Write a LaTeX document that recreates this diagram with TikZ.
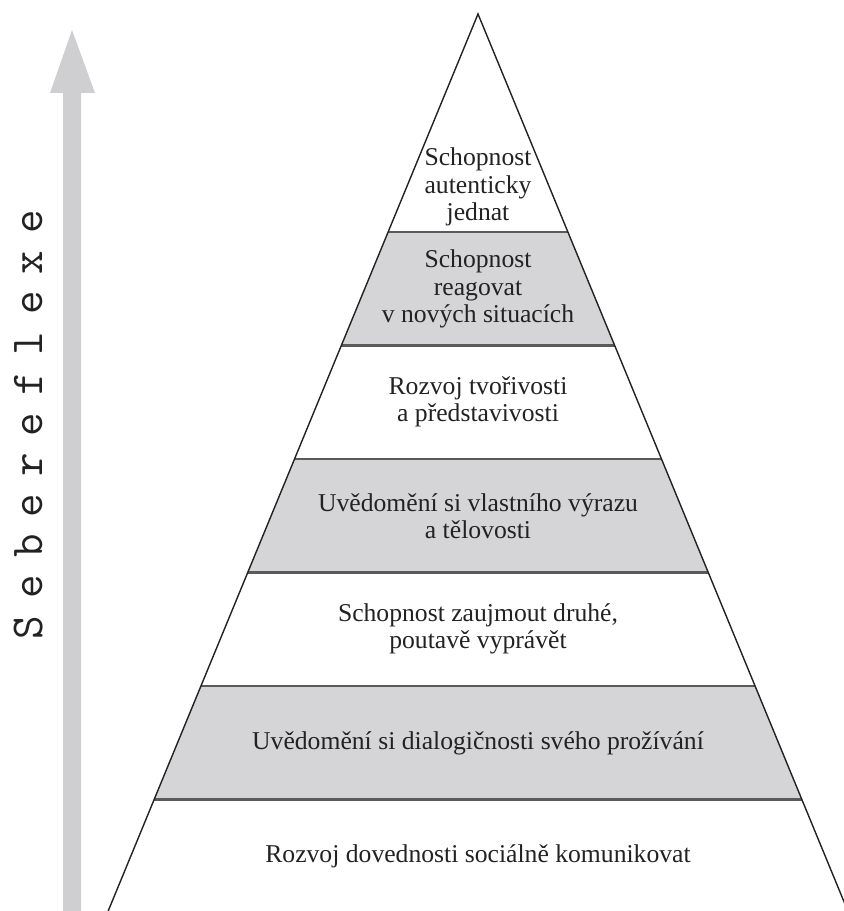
\documentclass[tikz,border=0pt]{standalone}
\usepackage{fontspec}
\setmainfont{Liberation Serif}
\usetikzlibrary{positioning}

\definecolor{bandgray}{HTML}{D5D5D7}
\definecolor{arrowgray}{HTML}{CFCFD1}
\definecolor{linegray}{HTML}{5A5A5A}
\definecolor{textdark}{HTML}{222222}

% half width of the pyramid at height y (pixel-like units)
\newcommand{\halfw}[1]{(#1-14)*0.4123}
% spacing for the letters along the arrow
\newcommand{\lgap}{\hspace{9.7pt}}

\begin{document}
\begin{tikzpicture}[
    x=0.02cm, y=-0.02cm,
    label/.style={align=center, text=textdark, font=\fontsize{14.6}{15.6}\selectfont},
    divider/.style={draw=linegray, line width=1.6pt},
    outline/.style={draw=textdark, line width=0.8pt, line join=miter}
]
    \useasboundingbox (0,0) rectangle (843,911);

    % grey growth arrow on the left
    \fill[arrowgray] (63,930) -- (63,93) -- (50,93) -- (72,30) -- (95,93)
        -- (81,93) -- (81,930) -- cycle;
    \node[rotate=90, anchor=base, inner sep=0pt, text=textdark,
          font=\ttfamily\fontsize{26}{26}\selectfont]
        (axis) at (42,424.5)
        {S\lgap e\lgap b\lgap e\lgap r\lgap e\lgap f\lgap l\lgap e\lgap x\lgap e};

    % shaded layers
    \foreach \ya/\yb in {232/345.5, 459/572.5, 686/799.5} {
        \pgfmathsetmacro\wa{\halfw{\ya}}
        \pgfmathsetmacro\wb{\halfw{\yb}}
        \fill[bandgray] (478-\wa,\ya) -- (478+\wa,\ya) -- (478+\wb,\yb)
            -- (478-\wb,\yb) -- cycle;
    }
    % layer borders
    \foreach \y in {232, 345.5, 459, 572.5, 686, 799.5} {
        \pgfmathsetmacro\w{\halfw{\y}}
        \draw[divider] (478-\w,\y) -- (478+\w,\y);
    }
    % pyramid sides
    \pgfmathsetmacro\wbase{\halfw{930}}
    \coordinate (apex) at (478,14);
    \draw[outline] (478-\wbase,930) -- (apex) -- (478+\wbase,930);

    % layer texts, top to bottom
    \node[label] (l0) at (478,187) {Schopnost\\autenticky\\jednat};
    \node[label] (l1) at (478,289) {Schopnost\\reagovat\\v nových situacích};
    \node[label] (l2) at (478,402) {Rozvoj tvořivosti\\a představivosti};
    \node[label] (l3) at (478,516) {Uvědomění si vlastního výrazu\\a tělovosti};
    \node[label] (l4) at (478,629) {Schopnost zaujmout druhé,\\poutavě vyprávět};
    \node[label] (l5) at (478,743) {Uvědomění si dialogičnosti svého prožívání};
    \node[label] (l6) at (478,856) {Rozvoj dovednosti sociálně komunikovat};
\end{tikzpicture}
\end{document}
